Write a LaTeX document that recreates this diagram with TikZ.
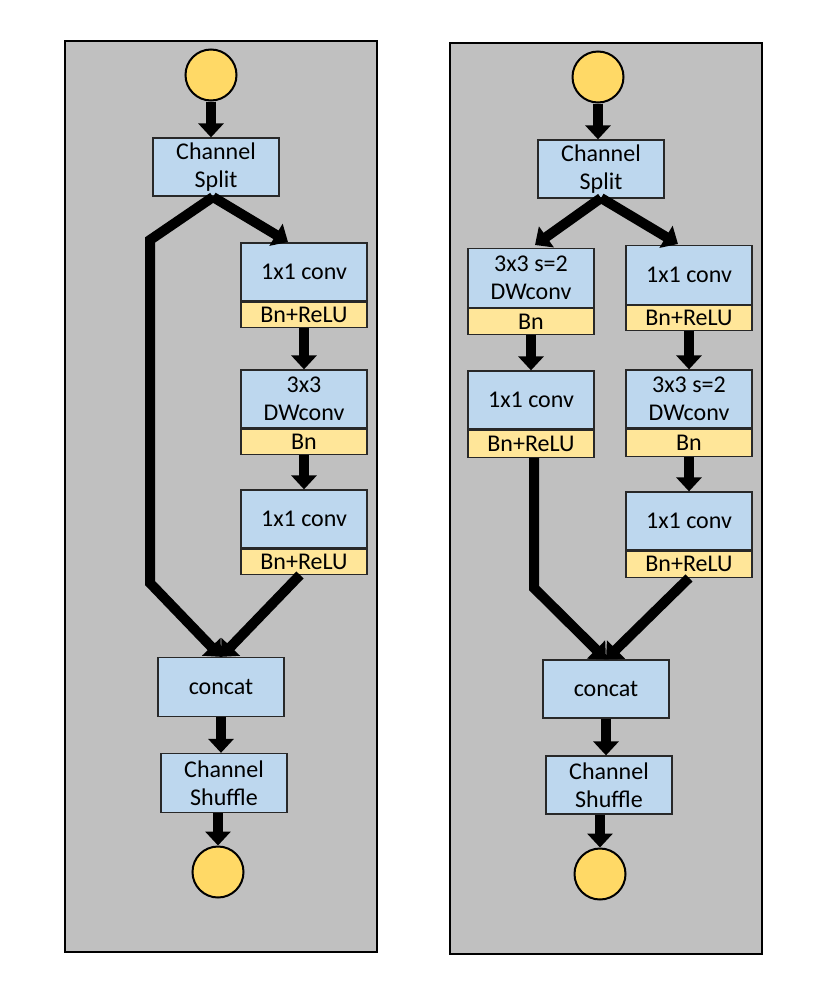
\documentclass[tikz,border=0pt]{standalone}
\usepackage{fontspec}
\setmainfont{Carlito}
\usetikzlibrary{arrows.meta, positioning, calc}
\definecolor{panelgray}{RGB}{192,192,192}
\definecolor{boxblue}{RGB}{189,215,238}
\definecolor{bandyellow}{RGB}{255,230,153}
\definecolor{portyellow}{RGB}{255,217,102}
\definecolor{edgegray}{RGB}{40,40,40}

\begin{document}
\begin{tikzpicture}[
    x=1pt, y=-1pt,
    panel/.style={draw=black, line width=2.5pt, fill=panelgray},
    blk/.style={rectangle, draw=edgegray, line width=1.3pt, fill=boxblue, minimum width=126pt, minimum height=58pt, inner sep=0pt, align=center, font=\fontsize{24}{28.5}\selectfont},
    band/.style={rectangle, draw=edgegray, line width=1.3pt, fill=bandyellow, minimum width=126pt, minimum height=25pt, inner sep=0pt, font=\fontsize{24}{25}\selectfont},
    port/.style={circle, draw=black, line width=2pt, fill=portyellow, minimum size=51pt, inner sep=0pt},
    flow/.style={-{Triangle[length=14pt, width=25pt]}, line width=10pt, line join=miter}
]
\useasboundingbox (0,0) rectangle (829,991);

% left unit
\draw[panel] (65,41) rectangle (377,952);
\node[port] (inL) at (211,75) {};
\node[blk] (splitL) at (216,167) {Channel\\Split};
\node[blk] (convLa) at (304,272) {1x1 conv};
\node[band, below=0pt of convLa] (bnLa) {Bn+ReLU};
\node[blk] (dwL) at (304,399) {3x3\\DWconv};
\node[band, below=0pt of dwL] (bnLb) {Bn};
\node[blk] (convLb) at (304,519) {1x1 conv};
\node[band, below=0pt of convLb] (bnLc) {Bn+ReLU};
\node[blk, minimum height=59pt] (catL) at (221,687) {concat};
\node[blk, minimum height=59pt] (shufL) at (224,783) {Channel\\Shuffle};
\node[port] (outL) at (218,872) {};

\coordinate (sL) at (213,197);
\coordinate (kLa) at (150,240);
\coordinate (kLb) at (150,583);

\draw[flow] (inL) -- (inL |- splitL.north);
\draw[flow] (sL) -- (kLa) -- (kLb) -- (catL.north);
\draw[flow] (sL) -- (288,242);
\draw[flow] (bnLa) -- (dwL);
\draw[flow] (bnLb) -- (convLb);
\draw[flow] (bnLc.south) ++(-4,0) -- (catL.north);
\draw[flow] (catL) -- (catL |- shufL.north);
\draw[flow] (shufL.south -| outL) -- (outL);

% right unit
\draw[panel] (450,43) rectangle (762,954);
\node[port] (inR) at (598,77) {};
\node[blk] (splitR) at (601,169) {Channel\\Split};
\node[blk, minimum height=59pt] (dwRa) at (531,278) {3x3 s=2\\DWconv};
\node[band, below=0pt of dwRa, minimum height=26pt] (bnRa) {Bn};
\node[blk] (convRa) at (531,400) {1x1 conv};
\node[band, below=0pt of convRa, minimum height=27pt] (bnRb) {Bn+ReLU};
\node[blk, minimum height=59pt] (convRb) at (689,275) {1x1 conv};
\node[band, below=0pt of convRb] (bnRc) {Bn+ReLU};
\node[blk] (dwRb) at (689,399) {3x3 s=2\\DWconv};
\node[band, below=0pt of dwRb, minimum height=27pt] (bnRd) {Bn};
\node[blk] (convRc) at (689,521) {1x1 conv};
\node[band, below=0pt of convRc, minimum height=26pt] (bnRe) {Bn+ReLU};
\node[blk] (catR) at (606,689) {concat};
\node[blk] (shufR) at (609,785) {Channel\\Shuffle};
\node[port] (outR) at (600,874) {};

\coordinate (sR) at (601,198);
\coordinate (kR) at (534,588);

\draw[flow] (inR) -- (inR |- splitR.north);
\draw[flow] (sR) -- (535,245);
\draw[flow] (sR) -- (678,244);
\draw[flow] (bnRa) -- (convRa);
\draw[flow] (bnRc) -- (dwRb);
\draw[flow] (bnRd) -- (convRc);
\draw[flow] (bnRb.south -| kR) -- (kR) -- (catR.north);
\draw[flow] (bnRe.south) -- (catR.north);
\draw[flow] (catR) -- (catR |- shufR.north);
\draw[flow] (shufR.south -| outR) -- (outR);
\end{tikzpicture}
\end{document}
